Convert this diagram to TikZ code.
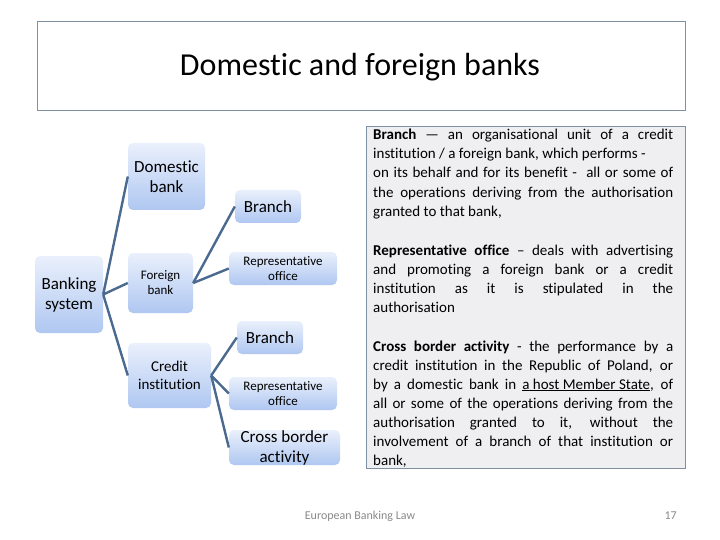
\documentclass[tikz,border=0pt]{standalone}
\usepackage{fontspec}
\setmainfont{Carlito}[Ligatures={NoCommon}]
\definecolor{linec}{HTML}{4A6A8F}
\definecolor{boxtop}{HTML}{EAF0FC}
\definecolor{boxbot}{HTML}{AFC7F1}
\definecolor{frame}{HTML}{7F90A3}
\definecolor{panel}{HTML}{EFEFF2}
\definecolor{foot}{HTML}{8A8A8A}
\begin{document}
\begin{tikzpicture}[x=1pt,y=-1pt,
  bx/.style={rounded corners=5pt, top color=boxtop, bottom color=boxbot, inner sep=0pt, align=center},
  big/.style={font=\fontsize{17}{20}\selectfont},
  mid/.style={font=\fontsize{15}{18}\selectfont},
  sml/.style={font=\fontsize{13}{15}\selectfont},
  conn/.style={draw=linec, line width=2.4pt},
  ln/.style={anchor=base west, inner sep=0pt, font=\fontsize{15}{19}\selectfont}
]
\useasboundingbox (0,0) rectangle (720,540);
\fill[white] (0,0) rectangle (720,540);
% title
\draw[frame, line width=0.8pt] (37,21) rectangle (685,110);
\node[font=\fontsize{32}{38}\selectfont] (title) at (360,67) {Domestic and foreign banks};
% panel
\draw[frame, fill=panel, line width=0.8pt] (366,126) rectangle (685,468);
% nodes
\node[bx,big, minimum width=77pt, minimum height=67pt] (dom) at (166.5,176.5) {Domestic\\bank};
\node[bx,big, minimum width=68pt, minimum height=77pt] (bs) at (69,294.5) {Banking\\system};
\node[bx,sml, minimum width=65pt, minimum height=60pt] (fb) at (160.5,283) {Foreign\\bank};
\node[bx,big, minimum width=66pt, minimum height=33pt] (br1) at (268,206.5) {Branch};
\node[bx,sml, minimum width=108pt, minimum height=33pt] (ro1) at (283,268.5) {Representative\\office};
\node[bx,mid, minimum width=83pt, minimum height=65pt] (ci) at (169.5,375.5) {Credit\\institution};
\node[bx,big, minimum width=66pt, minimum height=33pt] (br2) at (270,337.5) {Branch};
\node[bx,sml, minimum width=108pt, minimum height=33pt] (ro2) at (283,393.5) {Representative\\office};
\node[bx,big, minimum width=111pt, minimum height=35pt] (cb) at (284.5,447.5) {Cross border\\activity};
% connectors
\draw[conn] (bs.east) -- (dom.west);
\draw[conn] (bs.east) -- (fb.west);
\draw[conn] (bs.east) -- (ci.west);
\draw[conn] (fb.east) -- (br1.west);
\draw[conn] (fb.east) -- (ro1.west);
\draw[conn] (ci.east) -- (br2.west);
\draw[conn] (ci.east) -- (ro2.west);
\draw[conn] (ci.east) -- (cb.west);
% panel text
\node[ln] (t1) at (373,140) {\makebox[300pt][s]{\textbf{Branch} — an organisational unit of a credit}};
\node[ln] (t2) at (373,159) {institution / a foreign bank, which performs -};
\node[ln] (t3) at (373,178) {\makebox[300pt][s]{on its behalf and for its benefit -\ \ all or some of}};
\node[ln] (t4) at (373,197) {\makebox[300pt][s]{the operations deriving from the authorisation}};
\node[ln] (t5) at (373,216) {granted to that bank,};
\node[ln] (t6) at (373,255) {\makebox[300pt][s]{\textbf{Representative office} – deals with advertising}};
\node[ln] (t7) at (373,274) {\makebox[300pt][s]{and promoting a foreign bank or a credit}};
\node[ln] (t8) at (373,293) {\makebox[300pt][s]{institution as it is stipulated in the}};
\node[ln] (t9) at (373,312) {authorisation};
\node[ln] (t10) at (373,351) {\makebox[300pt][s]{\textbf{Cross border activity} - the performance by a}};
\node[ln] (t11) at (373,370) {\makebox[300pt][s]{credit institution in the Republic of Poland, or}};
\node[ln] (t12) at (373,389) {\makebox[300pt][s]{by a domestic bank in \underline{a host Member State}, of}};
\node[ln] (t13) at (373,408) {\makebox[300pt][s]{all or some of the operations deriving from the}};
\node[ln] (t14) at (373,427) {\makebox[300pt][s]{authorisation granted to it, without the}};
\node[ln] (t15) at (373,446) {\makebox[300pt][s]{involvement of a branch of that institution or}};
\node[ln] (t16) at (373,465) {bank,};
% footer
\node[anchor=base, text=foot, inner sep=0pt, font=\fontsize{12}{14}\selectfont] (foot1) at (360,519) {European Banking Law};
\node[anchor=base east, text=foot, inner sep=0pt, font=\fontsize{12}{14}\selectfont] (foot2) at (677,519) {17};
\end{tikzpicture}
\end{document}
